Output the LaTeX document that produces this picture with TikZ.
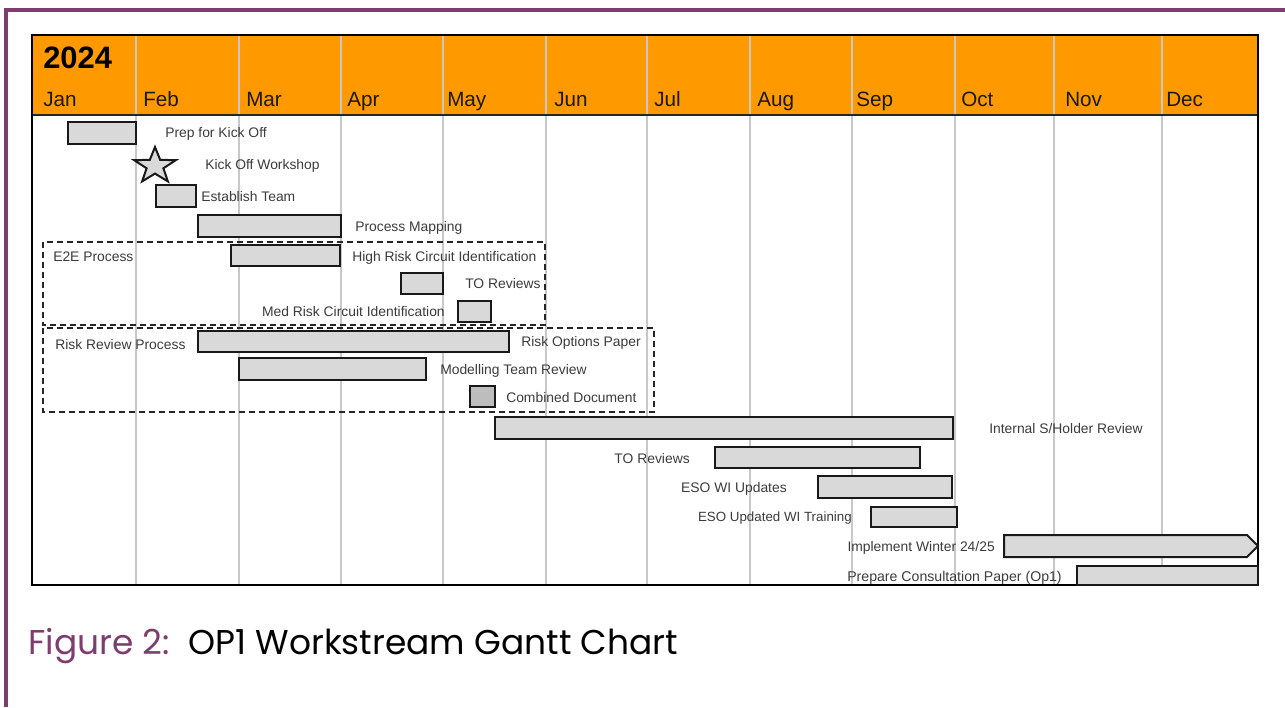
\documentclass[tikz,border=0pt]{standalone}
\usepackage{fontspec}
\setmainfont{Liberation Sans}
\newfontfamily\capfont{Poppins}
\definecolor{framepurple}{HTML}{7E3C6F}
\definecolor{headorange}{HTML}{FE9900}
\definecolor{barfill}{HTML}{D9D9D9}
\definecolor{bardark}{HTML}{BDBDBD}
\definecolor{gridgray}{HTML}{C8C8C8}
\definecolor{labelgray}{HTML}{3C3C3C}
% ganttbar[extra style]{x1}{y1}{x2}{y2}
\newcommand\ganttbar[5][]{\draw[barbox,#1] (#2,#3) rectangle (#4,#5);}
\begin{document}
\begin{tikzpicture}[x=0.75pt,y=-0.75pt,
  barbox/.style={fill=barfill,draw=black!90,line width=1.5pt},
  gridline/.style={draw=gridgray,line width=1.2pt},
  groupbox/.style={draw=black!85,line width=1.5pt,dash pattern=on 4.5pt off 3pt},
  month/.style={anchor=base west,inner sep=0pt,font=\fontsize{15.5}{18}\selectfont,text=black!90},
  tasklbl/.style={anchor=base west,inner sep=0pt,font=\fontsize{10.4}{12}\selectfont,text=labelgray},
  tasklblr/.style={tasklbl,anchor=base east}]
\useasboundingbox (0,0) rectangle (1285,707);
\fill[white] (0,0) rectangle (1285,707);
% page frame
\draw[framepurple,line width=2.3pt] (6,707) -- (6,10) -- (1285,10);
% header band
\fill[headorange] (32,35) rectangle (1258,115);
% month separators
\foreach \x in {136,239,341,443,546,647,750,852,955,1054,1162}
  \draw[gridline] (\x,35) -- (\x,585);
\draw[black!85,line width=1.5pt] (32,115) -- (1258,115);
\draw[black,line width=2pt] (32,35) rectangle (1258,585);
% header text
\node[anchor=base west,inner sep=0pt,font=\fontsize{23.2}{27}\selectfont\bfseries] (year) at (43,68) {2024};
\node[month] (mJan) at (43,106) {Jan};
\node[month] (mFeb) at (143,106) {Feb};
\node[month] (mMar) at (246,106) {Mar};
\node[month] (mApr) at (347,106) {Apr};
\node[month] (mMay) at (447,106) {May};
\node[month] (mJun) at (554,106) {Jun};
\node[month] (mJul) at (654,106) {Jul};
\node[month] (mAug) at (757,106) {Aug};
\node[month] (mSep) at (856,106) {Sep};
\node[month] (mOct) at (961,106) {Oct};
\node[month] (mNov) at (1065,106) {Nov};
\node[month] (mDec) at (1166,106) {Dec};
% group outlines
\draw[groupbox] (43,242) rectangle (545,325);
\draw[groupbox] (43,328) rectangle (654,412);
% bars
\ganttbar{68}{122}{136}{144}
\draw[barbox] (155,147) -- (160.2,159.9) -- (175.9,160.1) -- (163.4,168.3) -- (167.9,181.4)
  -- (155,173.6) -- (142.1,181.4) -- (146.6,168.3) -- (134.1,160.1) -- (149.8,159.9) -- cycle;
\ganttbar{156}{185}{196}{207}
\ganttbar{198}{215}{341}{237}
\ganttbar{231}{245}{340}{266}
\ganttbar{401}{273}{443}{294}
\ganttbar{458}{301}{491}{322}
\ganttbar{198}{331}{509}{352}
\ganttbar{239}{358}{426}{380}
\ganttbar[fill=bardark]{470}{386}{495}{407}
\ganttbar{495}{417}{953}{439}
\ganttbar{715}{447}{920}{468}
\ganttbar{818}{476}{952}{498}
\ganttbar{871}{507}{957}{527}
\draw[barbox] (1004,535) -- (1247,535) -- (1258,546) -- (1247,557) -- (1004,557) -- cycle;
\ganttbar{1077}{566}{1258}{585}
% task labels
\node[tasklbl] (t1) at (165,137) {Prep for Kick Off};
\node[tasklbl] (t2) at (205,169) {Kick Off Workshop};
\node[tasklbl] (t3) at (201,201) {Establish Team};
\node[tasklbl] (t4) at (355,231) {Process Mapping};
\node[tasklbl] (g1) at (53,261) {E2E Process};
\node[tasklbl] (t5) at (352,261) {High Risk Circuit Identification};
\node[tasklbl] (t6) at (465,288) {TO Reviews};
\node[tasklblr] (t7) at (445,316) {Med Risk Circuit Identification};
\node[tasklbl] (g2) at (55,349) {Risk Review Process};
\node[tasklbl] (t8) at (521,346) {Risk Options Paper};
\node[tasklbl] (t9) at (440,374) {Modelling Team Review};
\node[tasklbl] (t10) at (506,402) {Combined Document};
\node[tasklbl] (t11) at (989,433) {Internal S/Holder Review};
\node[tasklblr] (t12) at (690,463) {TO Reviews};
\node[tasklblr] (t13) at (787,492) {ESO WI Updates};
\node[tasklblr,font=\fontsize{10}{12}\selectfont] (t14) at (852,521) {ESO Updated WI Training};
\node[tasklblr] (t15) at (995,551) {Implement Winter 24/25};
\node[tasklblr,font=\fontsize{10.6}{12}\selectfont] (t16) at (1062,581) {Prepare Consultation Paper (Op1)};
% caption
\node[anchor=base west,inner sep=0pt,font=\capfont\fontsize{25.8}{30}\selectfont] (caption) at (28,654)
  {\textcolor{framepurple}{Figure 2:}\hspace{0.55em}OP1 Workstream Gantt Chart};
\end{tikzpicture}
\end{document}
